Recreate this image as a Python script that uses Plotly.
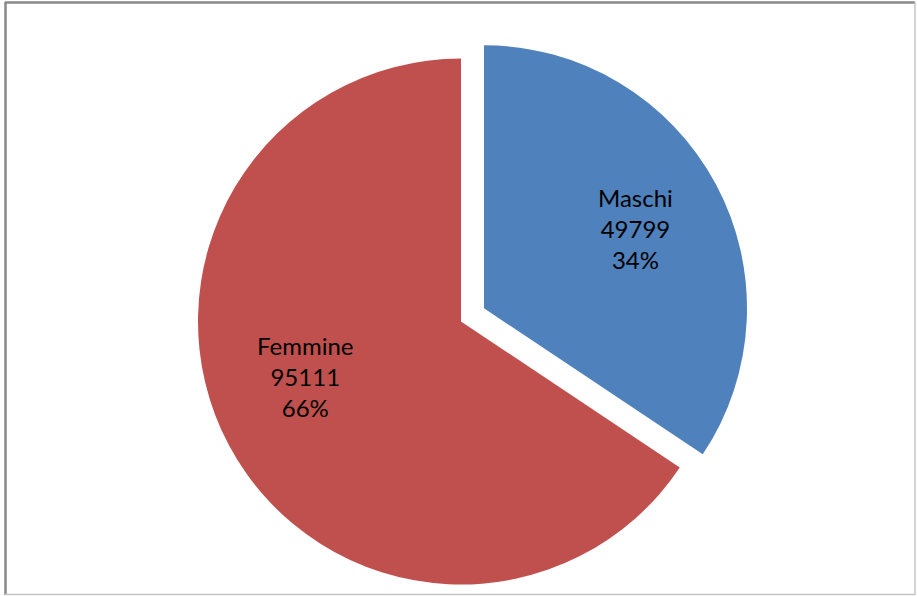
import plotly.graph_objects as go

W, H = 917, 596

labels = ["Maschi", "Femmine"]
values = [49799, 95111]
colors = ["#4F81BD", "#C0504D"]

# slice geometry in pixels: the blue one is pulled out of the pie
centers = [(484, 308.3), (461, 321.5)]
radius = 263
label_pos = [(635, 228), (305, 376)]


def domain_for(cx, cy, r):
    return dict(
        x=[(cx - r) / W, (cx + r) / W],
        y=[1 - (cy + r) / H, 1 - (cy - r) / H],
    )


total = sum(values)
fig = go.Figure()
for i in range(len(values)):
    slice_colors = ["rgba(0,0,0,0)"] * len(values)
    slice_colors[i] = colors[i]
    fig.add_trace(
        go.Pie(
            labels=labels,
            values=values,
            sort=False,
            direction="clockwise",
            rotation=0,
            marker=dict(colors=slice_colors, line=dict(width=0)),
            textinfo="none",
            domain=domain_for(*centers[i], radius),
            showlegend=False,
            hoverinfo="label+value+percent",
        )
    )

annotations = []
for i in range(len(values)):
    pct = round(100 * values[i] / total)
    annotations.append(
        dict(
            x=label_pos[i][0] / W,
            y=1 - label_pos[i][1] / H,
            xref="paper",
            yref="paper",
            xanchor="center",
            yanchor="middle",
            text=f"{labels[i]}<br>{values[i]}<br>{pct}%",
            showarrow=False,
            font=dict(family="Lato", size=24, color="black"),
            align="center",
        )
    )

shapes = [
    dict(type="line", xref="paper", yref="paper", x0=5 / W, x1=915 / W,
         y0=1 - 2.5 / H, y1=1 - 2.5 / H, line=dict(color="#898989", width=2.5)),
    dict(type="line", xref="paper", yref="paper", x0=5.5 / W, x1=5.5 / W,
         y0=1 - 2 / H, y1=1 - 595 / H, line=dict(color="#898989", width=2.5)),
    dict(type="line", xref="paper", yref="paper", x0=915 / W, x1=915 / W,
         y0=1 - 2 / H, y1=1 - 595 / H, line=dict(color="#c4c4c4", width=1.5)),
    dict(type="line", xref="paper", yref="paper", x0=5 / W, x1=915 / W,
         y0=1 - 594.5 / H, y1=1 - 594.5 / H, line=dict(color="#c4c4c4", width=1.5)),
]

fig.update_layout(
    width=W,
    height=H,
    margin=dict(l=0, r=0, t=0, b=0),
    paper_bgcolor="white",
    plot_bgcolor="white",
    annotations=annotations,
    shapes=shapes,
)
fig.write_html(
    "out.html",
    config=dict(displayModeBar=False),
    post_script="document.body.style.margin='0';document.body.style.overflow='hidden';",
)
